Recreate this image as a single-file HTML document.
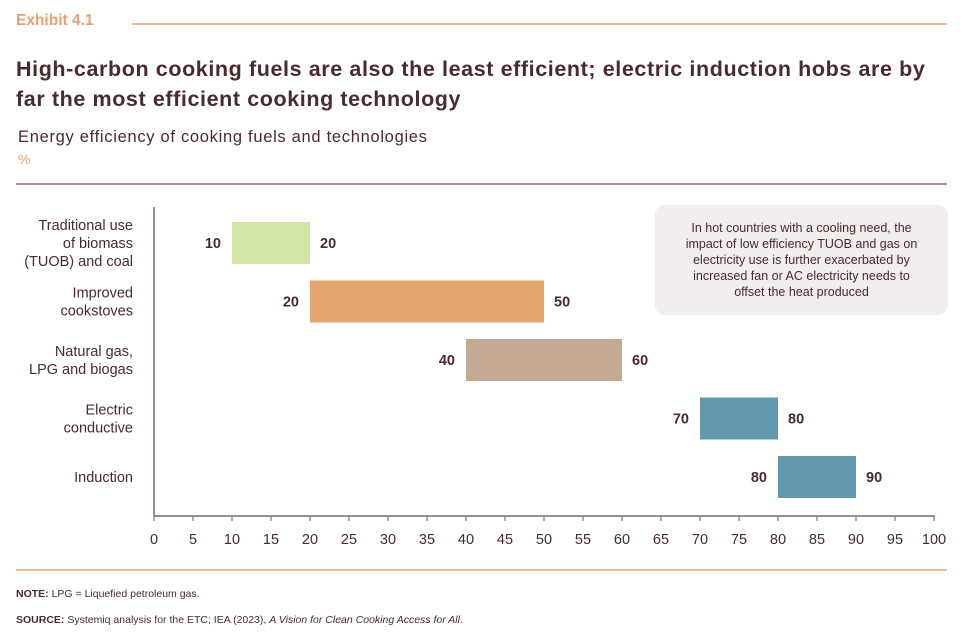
<!DOCTYPE html>
<html><head><meta charset="utf-8"><style>
body{margin:0;width:967px;height:634px;background:#fff;font-family:"Liberation Sans",sans-serif;color:#4a2a2e;position:relative;overflow:hidden}
.a{position:absolute}
</style></head><body>
<div class="a" style="left:16px;top:12px;font-size:15.5px;font-weight:bold;color:#e8a070">Exhibit 4.1</div>
<div class="a" style="left:132px;top:23px;width:815px;height:1.5px;background:#efbb94"></div>
<div class="a" style="left:16px;top:54px;width:945px;font-size:21.5px;font-weight:bold;line-height:30px;color:#4a2a2e;white-space:nowrap;letter-spacing:0.6px">High-carbon cooking fuels are also the least efficient; electric induction hobs are by<br>far the most efficient cooking technology</div>
<div class="a" style="left:18px;top:128px;font-size:16.5px;color:#4a2a2e;letter-spacing:0.7px">Energy efficiency of cooking fuels and technologies</div>
<div class="a" style="left:18px;top:151px;font-size:14px;color:#e8a070">%</div>
<div class="a" style="left:16px;top:183px;width:931px;height:2px;background:#a89090"></div>
<div class="a" style="left:655px;top:205px;width:293px;height:110px;background:#f3eeee;border-radius:10px;font-size:12.5px;line-height:16px;text-align:center;box-sizing:border-box;padding-top:15px;color:#4a2a2e">In hot countries with a cooling need, the<br>impact of low efficiency TUOB and gas on<br>electricity use is further exacerbated by<br>increased fan or AC electricity needs to<br>offset the heat produced</div>
<svg class="a" style="left:0;top:0" width="967" height="634" id="chart"></svg>
<div class="a" style="left:16px;top:569px;width:931px;height:1.5px;background:#efbb94"></div>
<div class="a" style="left:16px;top:588px;font-size:10.5px;color:#4a2a2e"><b>NOTE:</b> LPG = Liquefied petroleum gas.</div>
<div class="a" style="left:16px;top:614px;font-size:10.5px;color:#4a2a2e"><b>SOURCE:</b> Systemiq analysis for the ETC; IEA (2023), <i>A Vision for Clean Cooking Access for All</i>.</div>
<script>
const categories=[["Traditional use","of biomass","(TUOB) and coal"],["Improved","cookstoves"],["Natural gas,","LPG and biogas"],["Electric","conductive"],["Induction"]];
const lows=[10,20,40,70,80];
const highs=[20,50,60,80,90];
const colors=["#d4e6a5","#e5a46e","#c5aa93","#6198ad","#6198ad"];
const ticks=[0,5,10,15,20,25,30,35,40,45,50,55,60,65,70,75,80,85,90,95,100];
const svg=document.getElementById('chart');const NS="http://www.w3.org/2000/svg";
const x=v=>154+v*7.8;
const rowTop=i=>222+i*58.5;const bh=42;
function mk(t,a,p){const e=document.createElementNS(NS,t);for(const k in a)e.setAttribute(k,a[k]);(p||svg).appendChild(e);return e;}
let e=mk('line',{x1:154,y1:207,x2:154,y2:516,stroke:'#a08a8a','stroke-width':2});

e=mk('line',{x1:153,y1:516,x2:935,y2:516,stroke:'#a08a8a','stroke-width':2});

ticks.forEach(t=>{
 let l=mk('line',{x1:x(t),y1:516,x2:x(t),y2:521,stroke:'#a08a8a','stroke-width':1.5});
 
 let tx=mk('text',{x:x(t),y:544,'text-anchor':'middle','font-size':14.5,fill:'#4a2a2e'});tx.textContent=t;
 
});
categories.forEach((c,i)=>{
 const y=rowTop(i),cy=y+bh/2;
 const g=mk('text',{'text-anchor':'end','font-size':14.5,fill:'#4a2a2e'});
 
 c.forEach((s,j)=>{const ts=mk('tspan',{x:133,y:cy+5+(j-(c.length-1)/2)*18},g);ts.textContent=s;});
 const r=mk('rect',{x:x(lows[i]),y:y,width:x(highs[i])-x(lows[i]),height:bh,fill:colors[i]});
 
 const a=mk('text',{x:x(lows[i])-11,y:cy+5,'text-anchor':'end','font-size':14.5,'font-weight':'bold',fill:'#4a2a2e'});a.textContent=lows[i];
 
 const b=mk('text',{x:x(highs[i])+10,y:cy+5,'font-size':14.5,'font-weight':'bold',fill:'#4a2a2e'});b.textContent=highs[i];
 
});
</script>
</body></html>
